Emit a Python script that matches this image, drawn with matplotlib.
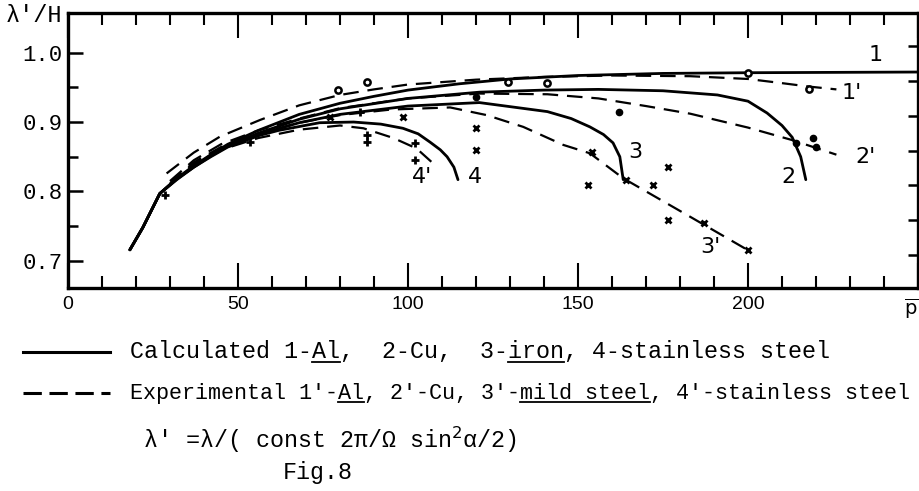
import matplotlib
matplotlib.use("Agg")
import matplotlib.pyplot as plt
from matplotlib.lines import Line2D
from matplotlib.ticker import FixedLocator, MultipleLocator

mono = ["Liberation Mono", "DejaVu Sans Mono"]

# calculated curves (solid)
calc1_x = [18.2, 22, 27, 32, 37, 42, 47, 56, 68, 80, 90, 100, 115, 130, 150, 175, 200, 250]
calc1_y = [0.716, 0.748, 0.797, 0.819, 0.837, 0.853, 0.868, 0.888, 0.911, 0.927, 0.937, 0.946, 0.955, 0.962, 0.967, 0.970, 0.971, 0.972]
calc2_x = [18.2, 22, 27, 32, 37, 42, 47, 56, 68, 80, 100, 121, 140, 156, 175, 191, 200, 205.6, 210, 213, 215.5, 217]
calc2_y = [0.716, 0.748, 0.797, 0.818, 0.836, 0.852, 0.866, 0.884, 0.904, 0.919, 0.934, 0.943, 0.946, 0.947, 0.945, 0.939, 0.930, 0.913, 0.895, 0.878, 0.850, 0.817]
calc3_x = [18.2, 22, 27, 32, 37, 42, 47, 56, 68, 80, 100, 121, 141, 148, 153.5, 157.5, 160.3, 162.3, 163.3]
calc3_y = [0.716, 0.748, 0.797, 0.818, 0.835, 0.851, 0.865, 0.882, 0.899, 0.911, 0.923, 0.928, 0.915, 0.905, 0.893, 0.882, 0.870, 0.850, 0.817]
calc4_x = [18.2, 22, 27, 32, 37, 42, 47, 56.5, 62, 74, 84, 92, 98.5, 103, 106.5, 109.5, 111.5, 113.5, 114.7]
calc4_y = [0.716, 0.748, 0.797, 0.817, 0.835, 0.850, 0.864, 0.881, 0.888, 0.899, 0.900, 0.897, 0.891, 0.883, 0.871, 0.860, 0.850, 0.835, 0.817]

# experimental curves (dashed)
exp1_x = [29, 37, 44.7, 56.5, 68, 80, 90, 100, 120, 140, 160, 183, 200, 210, 218, 226]
exp1_y = [0.826, 0.856, 0.879, 0.903, 0.924, 0.939, 0.947, 0.954, 0.961, 0.965, 0.967, 0.966, 0.962, 0.956, 0.951, 0.947]
exp2_x = [30, 37, 45, 56, 68, 80, 100, 121, 141, 156, 170, 183, 200, 213, 226]
exp2_y = [0.815, 0.845, 0.868, 0.888, 0.905, 0.920, 0.934, 0.941, 0.940, 0.934, 0.923, 0.912, 0.892, 0.874, 0.853]
exp3_x = [30, 37, 45, 56, 68, 80, 95, 112.4, 123.1, 133.9, 145.7, 153.5, 163.3, 183.9, 199.8]
exp3_y = [0.812, 0.842, 0.864, 0.883, 0.899, 0.910, 0.918, 0.921, 0.910, 0.893, 0.867, 0.855, 0.819, 0.761, 0.716]
exp4_x = [30, 37, 45, 56, 68, 80, 86.9, 95.7, 102.5, 108.4]
exp4_y = [0.810, 0.840, 0.860, 0.877, 0.889, 0.895, 0.891, 0.877, 0.862, 0.836]

# measured points
al_x = [79.5, 88, 129.5, 141, 200, 218]
al_y = [0.946, 0.958, 0.958, 0.956, 0.971, 0.947]
cu_x = [120, 162, 214, 219, 220]
cu_y = [0.936, 0.914, 0.870, 0.877, 0.864]
mild_x = [77, 98.5, 120, 120, 153, 154, 164, 172, 176.5, 176.5, 187, 200]
mild_y = [0.907, 0.907, 0.891, 0.860, 0.809, 0.857, 0.817, 0.809, 0.835, 0.759, 0.755, 0.716]
stain_x = [28.5, 53.5, 86, 88, 88, 102, 102]
stain_y = [0.795, 0.871, 0.914, 0.881, 0.871, 0.870, 0.845]

# curve labels
lab_text = ["1", "1'", "2", "2'", "3", "3'", "4", "4'"]
lab_x = [237.4, 230.5, 211.8, 234.5, 166.8, 188.8, 119.7, 104.0]
lab_y = [0.996, 0.942, 0.821, 0.850, 0.857, 0.720, 0.821, 0.821]

xtick_vals = [0, 50, 100, 150, 200, 250]
xtick_labels = ["0", "50", "100", "150", "200", r"$\overline{\mathrm{p}}$"]
ytick_vals = [0.7, 0.8, 0.9, 1.0]
ytick_labels = ["0.7", "0.8", "0.9", "1.0"]

W, H = 920, 491
fig = plt.figure(figsize=(W / 100, H / 100), dpi=100)
ax = fig.add_axes([68 / W, 1 - 288 / H, 850 / W, 275 / H])

for xs, ys in [(calc1_x, calc1_y), (calc2_x, calc2_y), (calc3_x, calc3_y), (calc4_x, calc4_y)]:
    ax.plot(xs, ys, color="black", lw=2.0, solid_capstyle="round")
for xs, ys in [(exp1_x, exp1_y), (exp2_x, exp2_y), (exp3_x, exp3_y), (exp4_x, exp4_y)]:
    ax.plot(xs, ys, color="black", lw=1.6, dashes=(7, 4))

ax.plot(al_x, al_y, "o", ms=4.5, mfc="white", mec="black", mew=1.8)
ax.plot(cu_x, cu_y, "o", ms=4.5, color="black")
ax.plot(mild_x, mild_y, "x", ms=5, color="black", mew=2)
ax.plot(stain_x, stain_y, "+", ms=6, color="black", mew=2)

for t, x, y in zip(lab_text, lab_x, lab_y):
    ax.text(x, y, t, fontsize=16, family="DejaVu Sans", ha="center", va="center")

ax.set_xlim(0, 250)
ax.set_ylim(0.661, 1.057)
ax.set_xticks(xtick_vals)
ax.set_xticklabels(xtick_labels, family="Liberation Sans", fontsize=14)
ax.get_xticklabels()[-1].set_horizontalalignment("right")
ax.xaxis.set_minor_locator(MultipleLocator(10))
ax.set_yticks(ytick_vals)
ax.set_yticklabels(ytick_labels, family=mono, fontsize=16)
ax.yaxis.set_minor_locator(FixedLocator([0.75, 0.85, 0.95]))

ax.tick_params(axis="x", which="major", direction="in", length=18, width=1.5,
               top=True, pad=6)
ax.tick_params(axis="x", which="minor", direction="in", length=8.5, width=1.5, top=True)
ax.tick_params(axis="y", which="major", direction="in", length=11, width=1.8, pad=4)
ax.tick_params(axis="y", which="minor", direction="in", length=7, width=1.8)
for s in ax.spines.values():
    s.set_linewidth(2.4)

# right-hand ticks (all equal length, slightly offset as on the original)
ax2 = ax.twinx()
ax2.set_ylim(0.661 - 0.009, 1.057 - 0.009)
ax2.set_yticks([0.7, 0.75, 0.8, 0.85, 0.9, 0.95, 1.0])
ax2.tick_params(axis="y", direction="in", length=7.5, width=1.8, labelright=False)
for s in ax2.spines.values():
    s.set_visible(False)

fig.text(34 / W, 1 - 15 / H, "λ'/H", family=mono, fontsize=17, ha="center", va="center")

# legend lines under the plot
fig.add_artist(Line2D([23 / W, 110 / W], [1 - 352 / H] * 2, transform=fig.transFigure,
                      color="black", lw=2.2))
fig.add_artist(Line2D([23 / W, 110 / W], [1 - 393 / H] * 2, transform=fig.transFigure,
                      color="black", lw=2.2, dashes=(6, 2.5)))

line1 = "Calculated 1-Al,  2-Cu,  3-iron, 4-stainless steel"
line2 = "Experimental 1'-Al, 2'-Cu, 3'-mild steel, 4'-stainless steel"
t1 = fig.text(130 / W, 1 - 352 / H, line1, family=mono, fontsize=16.8, va="center")
t2 = fig.text(130 / W, 1 - 393 / H, line2, family=mono, fontsize=15.7, va="center")
fig.text(143 / W, 1 - 440 / H, "λ' =λ/( const 2π/Ω sin$^{2}$α/2)", family=mono,
         fontsize=16.8, va="center")
fig.text(318 / W, 1 - 472 / H, "Fig.8", family=mono, fontsize=16.8, ha="center", va="center")

fig.canvas.draw()


def underline(txt, first, last):
    bb = txt.get_window_extent()
    w = bb.width / len(txt.get_text())
    x0 = bb.x0 + first * w
    x1 = bb.x0 + (last + 1) * w
    y = bb.y0 + 1.5
    fig.add_artist(Line2D([x0 / W, x1 / W], [y / H, y / H], transform=fig.transFigure,
                          color="black", lw=1.3))


underline(t1, 13, 14)
underline(t1, 27, 30)
underline(t2, 16, 17)
underline(t2, 30, 39)

fig.savefig("out.png", dpi=100)
